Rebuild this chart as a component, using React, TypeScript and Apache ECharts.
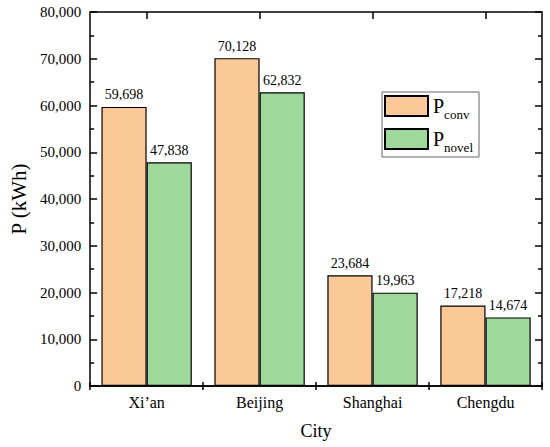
import React, { useEffect, useRef } from "react";
import * as echarts from "echarts";

const cities = ["Xi\u2019an", "Beijing", "Shanghai", "Chengdu"];
const pConv = [59698, 70128, 23684, 17218];
const pNovel = [47838, 62832, 19963, 14674];
const seriesNames = ["P_conv", "P_novel"];
const seriesSubs = ["conv", "novel"];

const FONT = "Liberation Serif, Times New Roman, serif";
const fmt = (v: number) => Number(v).toLocaleString("en-US");

export default function App() {
  const ref = useRef<HTMLDivElement>(null);
  useEffect(() => {
    if (!ref.current) return;
    const chart = echarts.init(ref.current, null, { renderer: "svg" });
    const catAxisBase = {
      type: "category" as const,
      data: cities,
      axisLine: { show: true, lineStyle: { color: "#000", width: 1.5 } },
      splitLine: { show: false },
    };
    const labelStyle = { fontFamily: FONT, fontSize: 14, color: "#000", fontWeight: "normal" as const };
    chart.setOption({
      animation: false,
      backgroundColor: "#fff",
      textStyle: { fontFamily: FONT },
      grid: { left: 78, right: 8, top: 12, bottom: 61 },
      legend: {
        left: 382,
        top: 92,
        orient: "vertical",
        data: seriesNames,
        itemWidth: 43,
        itemHeight: 20,
        itemGap: 7,
        padding: [3, 6, 3, 2],
        borderColor: "#666",
        borderWidth: 1,
        icon: "rect",
        formatter: (name: string) => {
          const i = seriesNames.indexOf(name);
          return `{p|P}{s|${seriesSubs[i]}}`;
        },
        textStyle: {
          fontFamily: FONT,
          color: "#000",
          rich: {
            p: { fontSize: 20, fontFamily: FONT, color: "#000", lineHeight: 20, verticalAlign: "bottom" },
            s: { fontSize: 13, fontFamily: FONT, color: "#000", lineHeight: 12, verticalAlign: "bottom", padding: [0, 0, -5, 0] },
          },
        },
      },
      xAxis: [
        {
          ...catAxisBase,
          position: "bottom",
          name: "City",
          nameLocation: "middle",
          nameGap: 36,
          nameTextStyle: { fontFamily: FONT, fontSize: 18, color: "#000" },
          axisTick: { show: true, inside: true, length: 4, lineStyle: { color: "#000", width: 1.5 } },
          axisLabel: { fontFamily: FONT, fontSize: 16, color: "#000", margin: 8 },
        },
        {
          ...catAxisBase,
          position: "top",
          axisTick: { show: true, inside: true, length: 4, lineStyle: { color: "#000", width: 1.5 } },
          axisLabel: { show: false },
        },
        {
          ...catAxisBase,
          position: "top",
          axisTick: { show: true, inside: true, alignWithLabel: true, length: 7, lineStyle: { color: "#000", width: 1.5 } },
          axisLabel: { show: false },
        },
      ],
      yAxis: [
        {
          type: "value",
          min: 0,
          max: 80000,
          interval: 10000,
          position: "left",
          name: "P (kWh)",
          nameLocation: "middle",
          nameGap: 54,
          nameTextStyle: { fontFamily: FONT, fontSize: 21, color: "#000" },
          axisLine: { show: true, lineStyle: { color: "#000", width: 1.5 } },
          axisTick: { show: true, inside: true, length: 7, lineStyle: { color: "#000", width: 1.5 } },
          minorTick: { show: true, splitNumber: 2, length: 4, lineStyle: { color: "#000", width: 1.5 } },
          splitLine: { show: false },
          axisLabel: { fontFamily: FONT, fontSize: 15, color: "#000", margin: 9, formatter: (v: number) => fmt(v) },
        },
        {
          type: "value",
          min: 0,
          max: 80000,
          interval: 10000,
          position: "right",
          axisLine: { show: true, lineStyle: { color: "#000", width: 1.5 } },
          axisTick: { show: true, inside: true, length: 7, lineStyle: { color: "#000", width: 1.5 } },
          minorTick: { show: true, splitNumber: 2, length: 4, lineStyle: { color: "#000", width: 1.5 } },
          splitLine: { show: false },
          axisLabel: { show: false },
        },
      ],
      series: [
        {
          name: seriesNames[0],
          type: "bar",
          data: pConv,
          barGap: "0%",
          barCategoryGap: "20%",
          itemStyle: { color: "#FBC897", borderColor: "#000", borderWidth: 1.2 },
          label: { show: true, position: "top", distance: 5, ...labelStyle, formatter: (p: any) => fmt(p.value) },
        },
        {
          name: seriesNames[1],
          type: "bar",
          data: pNovel,
          barGap: "0%",
          barCategoryGap: "20%",
          itemStyle: { color: "#9ED99B", borderColor: "#000", borderWidth: 1.2 },
          label: { show: true, position: "top", distance: 5, ...labelStyle, formatter: (p: any) => fmt(p.value) },
        },
      ],
    });
    return () => chart.dispose();
  }, []);
  return <div ref={ref} style={{ width: 550, height: 447, position: "absolute", left: 0, top: 0 }} />;
}
